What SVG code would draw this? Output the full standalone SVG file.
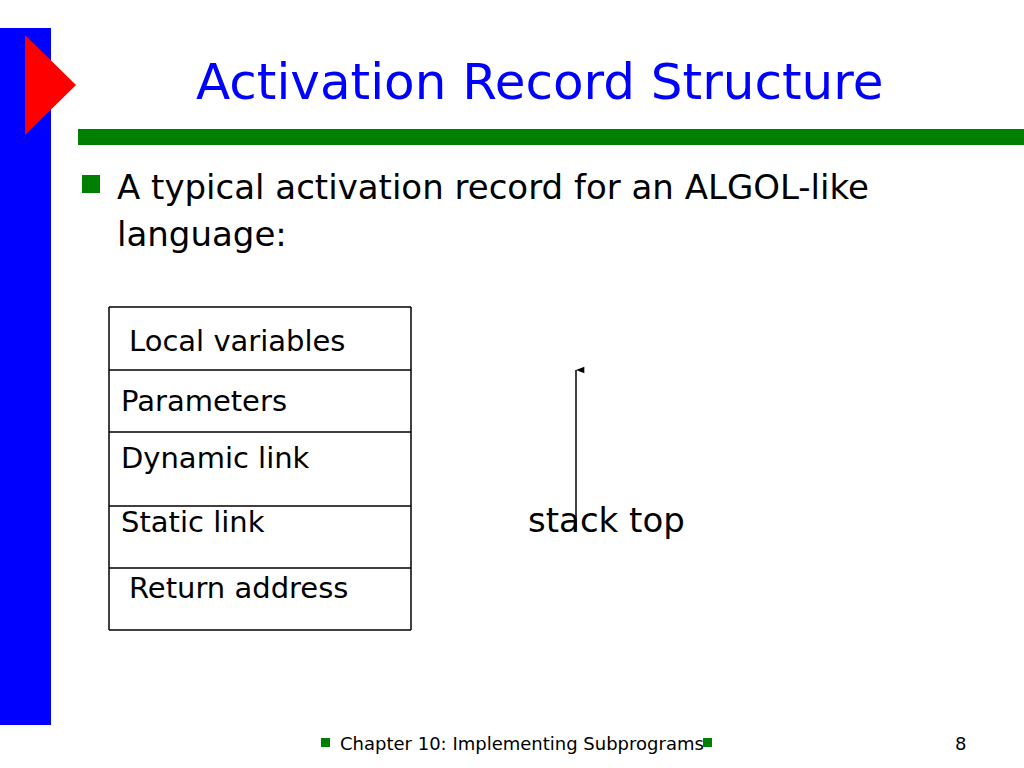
<svg xmlns="http://www.w3.org/2000/svg" width="1024" height="768" viewBox="0 0 1024 768">
<defs><marker id="ah" markerWidth="10" markerHeight="10" refX="5" refY="0" orient="auto" markerUnits="userSpaceOnUse" viewBox="0 -1 10 12"><path d="M1,10 L5,0 L9,10 Z" fill="#000"/></marker></defs>
<style>text{font-family:"DejaVu Sans",Verdana,sans-serif;fill:#000}.c{font-size:29px}.l{stroke:#000;stroke-width:1.5}</style>
<rect width="1024" height="768" fill="#fff"/>
<rect x="0" y="28" width="51" height="697" fill="#0000FF"/>
<polygon points="25,35 76,85 25,135" fill="#FF0000"/>
<rect x="78" y="129" width="946" height="16" fill="#008000"/>
<text x="196" y="99" font-size="50" style="fill:#0000FF">Activation Record Structure</text>
<rect x="82" y="175" width="18" height="18" fill="#008000"/>
<text x="117" y="199" font-size="34">A typical activation record for an ALGOL-like</text>
<text x="117" y="246" font-size="34">language:</text>
<g id="table">
<line class="l" x1="109" y1="307" x2="109" y2="630"/><line class="l" x1="411" y1="307" x2="411" y2="630"/>
<line class="l" x1="109" y1="307" x2="411" y2="307"/><line class="l" x1="109" y1="370" x2="411" y2="370"/>
<line class="l" x1="109" y1="432" x2="411" y2="432"/><line class="l" x1="109" y1="506" x2="411" y2="506"/>
<line class="l" x1="109" y1="568" x2="411" y2="568"/><line class="l" x1="109" y1="630" x2="411" y2="630"/>
<text class="c" x="129" y="351">Local variables</text>
<text class="c" x="121" y="411">Parameters</text>
<text class="c" x="121" y="468">Dynamic link</text>
<text class="c" x="121" y="532">Static link</text>
<text class="c" x="129" y="598">Return address</text>
</g>
<g id="connectors"><line x1="576" y1="530" x2="576" y2="370" stroke="#000" stroke-width="1.5" marker-end="url(#ah)"/></g>
<text x="528" y="532" font-size="34">stack top</text>
<rect x="321" y="738" width="9" height="9" fill="#008000"/>
<text x="340" y="750" font-size="18">Chapter 10: Implementing Subprograms</text>
<rect x="703" y="738" width="9" height="9" fill="#008000"/>
<text x="955" y="750" font-size="18">8</text>
</svg>
